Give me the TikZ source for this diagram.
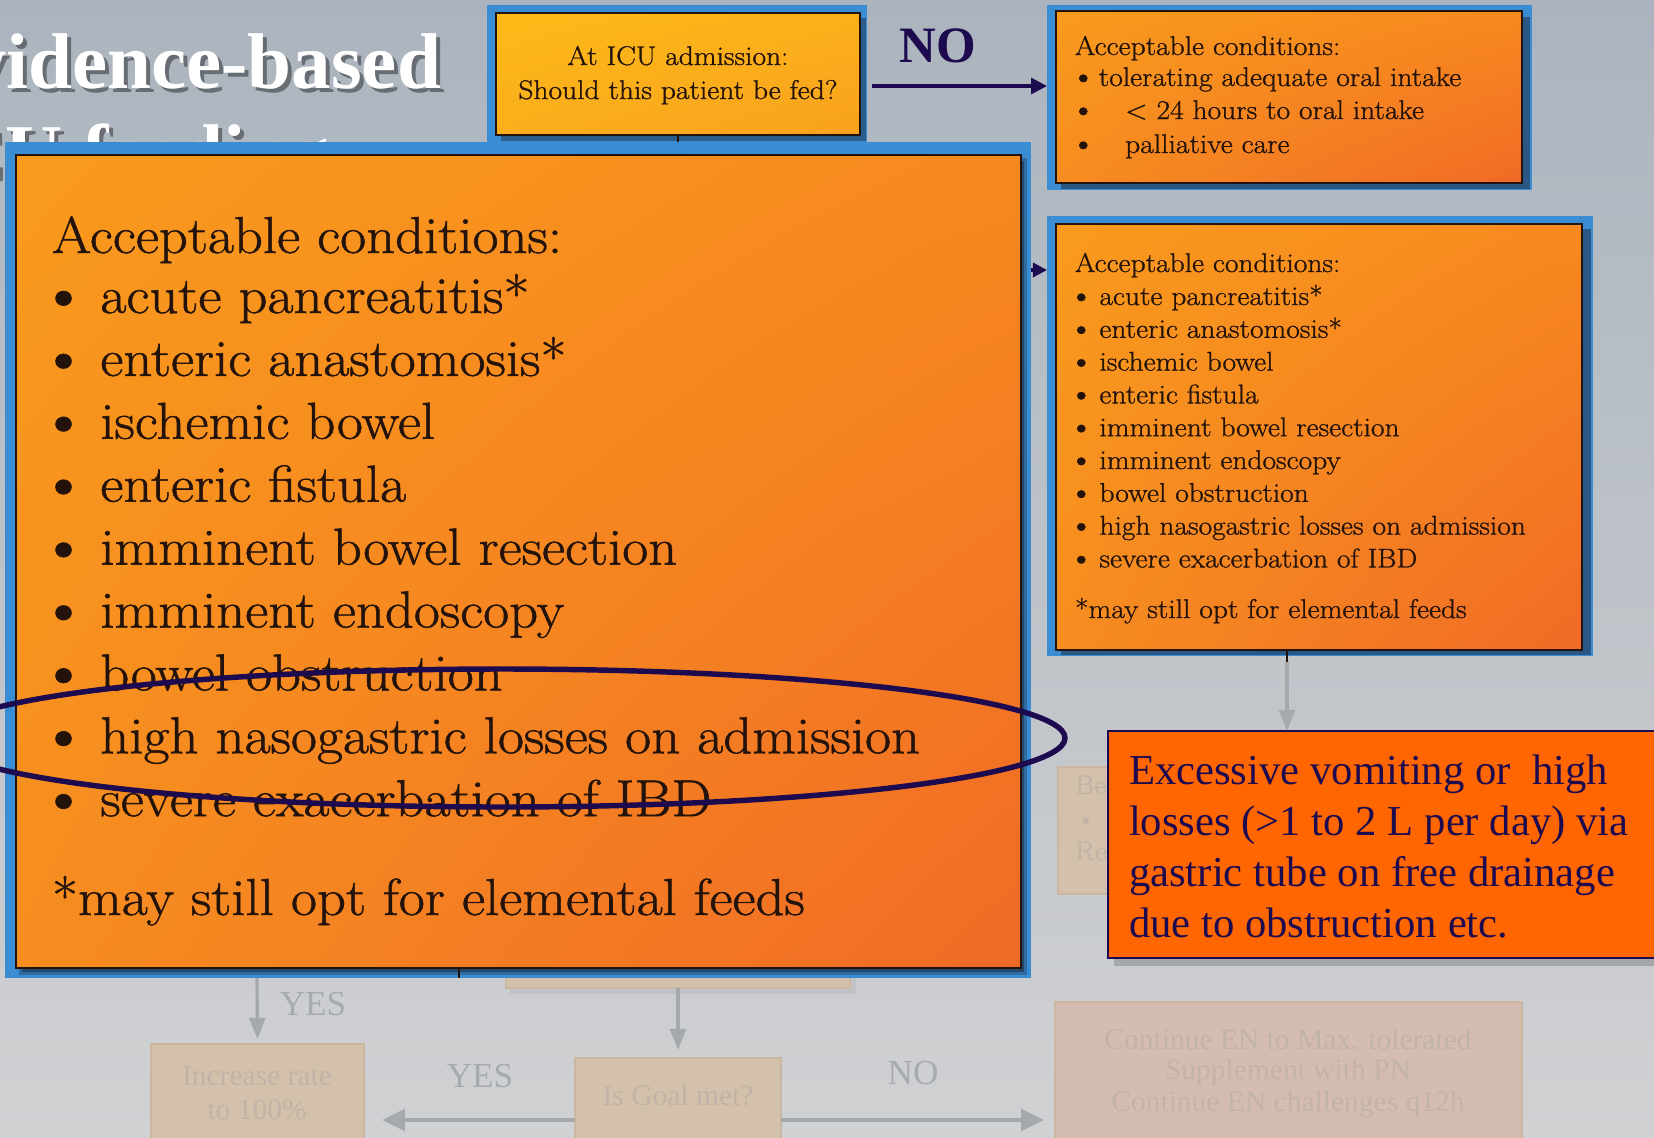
\documentclass[tikz,border=0pt]{standalone}
\usepackage{fontspec}
\setmainfont{Latin Modern Roman}[FakeStretch=1.09, FakeBold=1.0]
\newfontfamily\tnr{Liberation Serif}
\usetikzlibrary{arrows.meta,fit,shadings}

\definecolor{bgtop}{HTML}{ABB4BE}
\definecolor{bgbot}{HTML}{D0D1D3}
\definecolor{framec}{HTML}{3A8DD3}
\definecolor{shadowc}{HTML}{1C2E44}
\definecolor{ink}{HTML}{24130A}
\definecolor{navy}{HTML}{1E0A4E}
\definecolor{redfill}{HTML}{FF6600}
\definecolor{fadefill}{HTML}{D4C1AB}
\definecolor{fadeline}{HTML}{CBB69F}
\definecolor{fadetext}{HTML}{C1B4A6}
\definecolor{fadepink}{HTML}{D4BDB0}
\definecolor{fadearrow}{HTML}{A6A9AC}
\definecolor{fadelabel}{HTML}{A7AAAF}
\definecolor{orUL}{HTML}{F99A1D}
\definecolor{orUR}{HTML}{F7891F}
\definecolor{orLL}{HTML}{F68D20}
\definecolor{orLR}{HTML}{F06A26}
\definecolor{yeUL}{HTML}{FDBA18}
\definecolor{yeUR}{HTML}{FBB01A}
\definecolor{yeLL}{HTML}{FAAE1B}
\definecolor{yeLR}{HTML}{F9A11E}

\newcommand\fntbig{\fontsize{29.6}{36}\selectfont}
\newcommand\fntbox{\fontsize{15.4}{19}\selectfont}
\newcommand\fntred{\tnr\fontsize{24.3}{29}\selectfont}
\newcommand\fnttitle{\tnr\bfseries\fontsize{45}{54}\selectfont}
\newcommand\fntfade{\tnr\fontsize{16.8}{20}\selectfont}
\newcommand\fntlabel{\tnr\fontsize{20}{24}\selectfont}
\newcommand\blt{\raisebox{-0.05em}{\scalebox{1.25}{\textbullet}}}

\tikzset{
  every node/.style={inner sep=0pt, outer sep=0pt},
  framefill/.style={fill=framec},
  orangebox/.style={draw=ink, line width=0.6pt,
    upper left=orUL, upper right=orUR, lower left=orLL, lower right=orLR},
  yellowbox/.style={draw=ink, line width=0.6pt,
    upper left=yeUL, upper right=yeUR, lower left=yeLL, lower right=yeLR},
  bigtxt/.style={anchor=base west, font=\fntbig, text=ink},
  boxtxt/.style={anchor=base west, font=\fntbox, text=ink},
  redtxt/.style={anchor=base west, font=\fntred, text=navy},
  fadebox/.style={fill=fadefill, draw=fadeline, line width=0.6pt},
  fadetxt/.style={font=\fntfade, text=fadetext},
  fadelbl/.style={font=\fntlabel, text=fadelabel},
  fadearrowthin/.style={draw=fadearrow, line width=1.8pt,
    -{Triangle[length=12pt,width=9pt]}},
  fadearrowthick/.style={draw=fadearrow, line width=2.6pt,
    -{Triangle[length=13pt,width=12pt]}},
  navyarrow/.style={draw=navy, line width=1.8pt,
    -{Triangle[length=9pt,width=9pt]}},
  tick/.style={draw=ink, line width=1.6pt},
}

\begin{document}
\begin{tikzpicture}[x=0.02cm, y=-0.02cm]
\useasboundingbox (0,0) rectangle (1654,1137);
\clip (0,0) rectangle (1654,1137);

% slide background
\shade[top color=bgtop, bottom color=bgbot] (0,0) rectangle (1654,1137);

% slide title
\node[anchor=base east, font=\fnttitle, text=black, opacity=.4] (title1s) at (445,92) {Evidence-based};
\node[anchor=base east, font=\fnttitle, text=white] (title1) at (441,88) {Evidence-based};
\node[anchor=base west, font=\fnttitle, text=black, opacity=.4] (title2s) at (-78,183) {ICU feeding};
\node[anchor=base west, font=\fnttitle, text=white] (title2) at (-82,179) {ICU feeding};

% ---------- faded part of the algorithm ----------
\fill[black, opacity=.05] (510,904) rectangle (856,994);
\node[fadebox, fit={(506,900) (850,988)}] (fadeA) {};
\node[fadebox, fit={(575,1058) (781,1182)}] (goal) {};
\node[fadebox, fit={(151,1044) (364,1196)}] (incr) {};
\node[fadebox, fill=fadepink, fit={(1055,1002) (1522,1238)}] (cont) {};
\node[fadetxt] (goaltxt) at (678,1095) {Is Goal met?};
\node[fadetxt] (incrtxt1) at (257,1076) {Increase rate};
\node[fadetxt] (incrtxt2) at (257,1110) {to 100\%};
\node[fadetxt] (conttxt1) at (1288,1039) {Continue EN to Max. tolerated};
\node[fadetxt] (conttxt2) at (1288,1072) {Supplement with PN};
\node[fadetxt] (conttxt3) at (1288,1104) {Continue EN challenges q12h};

\coordinate (yesdown) at (257,978);
\draw[fadearrowthin, shorten >=0.1cm] (yesdown) -- (incr.north);
\draw[fadearrowthin, shorten >=0.16cm] (fadeA.south) -- (goal.north);
\draw[fadearrowthick, shorten >=0.36cm] (goal.west) -- (incr.east);
\draw[fadearrowthick, shorten >=0.22cm] (goal.east) -- (cont.west);
\node[fadelbl] (yes1) at (313,1004) {YES};
\node[fadelbl] (yes2) at (480,1076) {YES};
\node[fadelbl] (no2) at (913,1073) {NO};

% faded box partly hidden by the note
\node[fadebox, fit={(1058,767) (1516,894)}] (fadeB) {};
\node[anchor=base west, font=\fntbox, text=fadetext] (fadeB1) at (1075,794) {Bey};
\node[anchor=base west, font=\fntbox, text=fadetext] (fadeB2) at (1075,828) {\textbullet\ \ c};
\node[anchor=base west, font=\fntbox, text=fadetext] (fadeB3) at (1075,860) {Re};

% ---------- top question box ----------
\fill[framefill] (487,5) rectangle (867,145);
\fill[shadowc, opacity=.5] (501,18) rectangle (866,141);
\node[yellowbox, fit={(496,13) (860,135)}] (topbox) {};
\node[font=\fntbox, text=ink, anchor=base] (top1) at (678,65) {At ICU admission:};
\node[font=\fntbox, text=ink, anchor=base] (top2) at (678,99) {Should this patient be fed?};
\draw[tick] (topbox.south) -- ++(0,8);

% ---------- top right box ----------
\fill[framefill] (1047,5) rectangle (1532,190);
\fill[shadowc, opacity=.55] (1061,17) rectangle (1530,189);
\node[orangebox, fit={(1056,11) (1522,183)}] (trbox) {};
\node[boxtxt] (tr0) at (1075,55) {Acceptable conditions:};
\node[boxtxt] (tr1) at (1070,86) {\rlap{\blt}\hspace{16.4pt}tolerating adequate oral intake};
\node[boxtxt] (tr2) at (1070,119) {\rlap{\blt}\hspace{31.4pt}< 24 hours to oral intake};
\node[boxtxt] (tr3) at (1070,153) {\rlap{\blt}\hspace{31.4pt}palliative care};

\coordinate (noY) at (0,86);
\draw[navyarrow, shorten <=0.24cm, shorten >=0.18cm] (topbox.east |- noY) -- (trbox.west |- noY);
\node[font=\tnr\bfseries\fontsize{29}{34}\selectfont, text=navy] (nolbl) at (938,46) {NO};

% ---------- middle right box ----------
\fill[framefill] (1047,216) rectangle (1593,656);
\fill[shadowc, opacity=.55] (1061,229) rectangle (1591,655);
\node[orangebox, fit={(1056,224) (1582,650)}] (midbox) {};
\node[boxtxt] (mid0) at (1075,272) {Acceptable conditions:};
\foreach \t [count=\i from 0] in {acute pancreatitis*,enteric anastomosis*,ischemic bowel,enteric fistula,imminent bowel resection,imminent endoscopy,bowel obstruction,high nasogastric losses on admission,severe exacerbation of IBD}
  \node[boxtxt] (miditem\i) at (1068,{305+32.8*\i}) {\rlap{\blt}\hspace{17.9pt}\t};
\node[boxtxt] (midnote) at (1075,618) {*may still opt for elemental feeds};

\draw[tick] (fadeB.north |- midbox.south) -- ++(0,12);
\draw[fadearrowthin, shorten <=0.24cm, shorten >=0.72cm] (fadeB.north |- midbox.south) -- (fadeB.north);

% ---------- enlarged box ----------
\fill[framefill] (5,142) rectangle (1031,978);
\fill[shadowc, opacity=.35] (19,158) rectangle (1027,975);
\fill[shadowc, opacity=.55] (22,161) rectangle (1024,972);
\node[orangebox, fit={(16,155) (1021,968)}] (bigbox) {};
\node[bigtxt] (big0) at (52,253) {Acceptable conditions:};
\foreach \t [count=\i from 0] in {acute pancreatitis*,enteric anastomosis*,ischemic bowel,enteric fistula,imminent bowel resection,imminent endoscopy,bowel obstruction,high nasogastric losses on admission,severe exacerbation of IBD}
  \node[bigtxt] (bigitem\i) at (38,{313+62.9*\i}) {\rlap{\blt}\hspace{35.5pt}\t};
\node[bigtxt] (bignote) at (52,915) {*may still opt for elemental feeds};

\coordinate (arY) at (0,270);
\draw[navyarrow, -{Triangle[length=8pt,width=8pt]}, shorten <=0.2cm, shorten >=0.18cm] (bigbox.east |- arY) -- (midbox.west |- arY);
\coordinate (bigtick) at (459,968);
\draw[tick] (bigtick) -- ++(0,10);

% highlight around the nasogastric line
\draw[navy, line width=3.1pt] (502,738) ellipse [x radius=563, y radius=69];

% ---------- explanatory note ----------
\fill[black, opacity=.18] (1114,738) rectangle (1680,966);
\node[fit={(1108,731) (1680,958)}, fill=redfill, draw=navy, line width=1pt] (note) {};
\node[redtxt] (note1) at (1129,784) {Excessive vomiting or \ high};
\node[redtxt] (note2) at (1129,835) {losses (>1 to 2 L per day) via};
\node[redtxt] (note3) at (1129,886) {gastric tube on free drainage};
\node[redtxt] (note4) at (1129,937) {due to obstruction etc.};
\end{tikzpicture}
\end{document}
